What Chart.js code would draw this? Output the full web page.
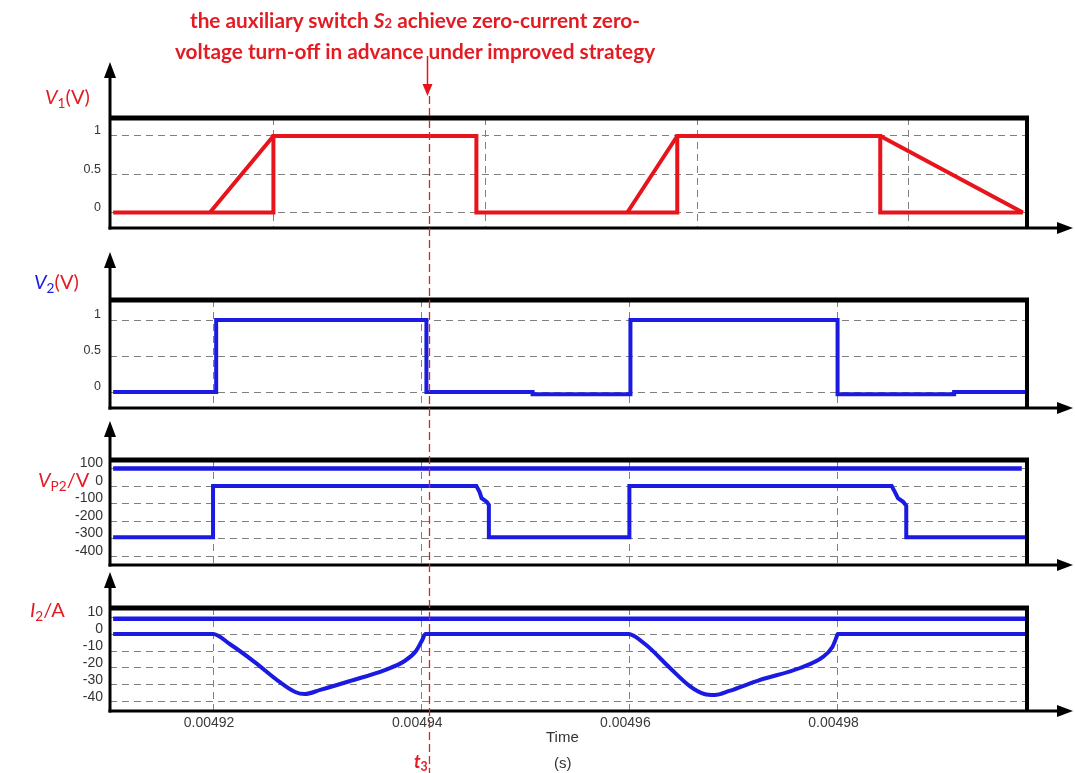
<!DOCTYPE html>
<html>
<head>
<meta charset="utf-8">
<title>Auxiliary switch S2 waveforms</title>
<script src="https://cdn.jsdelivr.net/npm/chart.js@4.4.1/dist/chart.umd.min.js"></script>
<style>
  html, body { margin: 0; padding: 0; background: #fff; }
  #page { position: relative; width: 1075px; height: 773px; overflow: hidden; font-family: Lato, "Open Sans", sans-serif; }
  #page canvas { position: absolute; left: 0; top: 0; }
  .txt { position: absolute; white-space: nowrap; line-height: 1; }
  .red { color: #e31b23; }
  .blue { color: #1a1ae0; }
  .sub { font-size: 0.68em; position: relative; top: 0.28em; }
  .axisName { font-size: 20px; }
  #headline { left: 140px; top: 6px; width: 550px; text-align: center; font-weight: bold; font-size: 20.8px; line-height: 28px; }
  #tmark { left: 414px; top: 752px; font-weight: bold; font-size: 18px; }
  .timeLbl { font-family: "Liberation Sans", Arial, sans-serif; font-size: 15px; color: #333; }
</style>
</head>
<body>
<div id="page">
  <canvas id="pV1" width="1075" height="773"></canvas>
  <canvas id="pV2" width="1075" height="773"></canvas>
  <canvas id="pVP2" width="1075" height="773"></canvas>
  <canvas id="pI2" width="1075" height="773"></canvas>

  <div id="headline" class="txt red">the auxiliary switch <i>S</i><span style="font-size:13px">2</span> achieve zero-current zero-<br>voltage turn-off in advance under improved strategy</div>
  <div class="txt red axisName" style="left:45px; top:86px;"><i>V</i><span class="sub">1</span>(V)</div>
  <div class="txt axisName" style="left:34px; top:271px;"><span class="blue"><i>V</i><span class="sub">2</span></span><span class="red">(V)</span></div>
  <div class="txt red axisName" style="left:38px; top:469px;"><i>V</i><span class="sub">P2</span>/V</div>
  <div class="txt red axisName" style="left:30px; top:599px;"><i>I</i><span class="sub">2</span>/A</div>
  <div id="tmark" class="txt red"><i>t</i><span class="sub">3</span></div>
  <div class="txt timeLbl" style="left:546px; top:729px;">Time</div>
  <div class="txt timeLbl" style="left:554px; top:755px;">(s)</div>
</div>

<script>
// ---- time axis (seconds) ----
const timeMin = 0.0049101;
const timeMax = 0.0049982;
const timeTicks = [0.00492, 0.00494, 0.00496, 0.00498];
const timeTickLabels = ['0.00492', '0.00494', '0.00496', '0.00498'];
const v1GridTimes = [0.0049258, 0.0049462, 0.0049665, 0.0049868];
const t3Time = 0.0049407;

// ---- V1 (V): gate signal of the main switch ----
const v1Time  = [0.0049104, 0.0049258, 0.0049258, 0.0049453, 0.0049453, 0.0049646, 0.0049646, 0.0049841, 0.0049841, 0.0049978];
const v1Value = [0, 0, 1, 1, 0, 0, 1, 1, 0, 0];
const v1RampTime  = [0.0049197, 0.0049258, 0.0049258, 0.0049598, 0.0049646, 0.0049646, 0.0049841, 0.0049978];
const v1RampValue = [0, 1, null, 0, 1, null, 1, 0];
const v1Ticks = [0, 0.5, 1];

// ---- V2 (V): gate signal of the auxiliary switch S2 ----
const v2Time  = [0.0049104, 0.0049203, 0.0049203, 0.0049405, 0.0049405, 0.0049507, 0.0049507, 0.0049601, 0.0049601, 0.0049800, 0.0049800, 0.0049912, 0.0049912, 0.0049982];
const v2Value = [0, 0, 1, 1, 0, 0, -0.03, -0.03, 1, 1, -0.03, -0.03, 0, 0];
const v2Ticks = [0, 0.5, 1];

// ---- VP2 (V) ----
const vp2UpperTime  = [0.0049104, 0.0049977];
const vp2UpperValue = [100, 100];
const vp2Time  = [0.0049104, 0.0049200, 0.0049200, 0.0049453, 0.0049456, 0.0049458, 0.0049463, 0.0049465, 0.0049465,
                  0.0049600, 0.0049600, 0.0049852, 0.0049855, 0.0049858, 0.0049863, 0.0049866, 0.0049866, 0.0049982];
const vp2Value = [-292, -292, 0, 0, -33, -69, -90, -108, -292,
                  -292, 0, 0, -33, -69, -90, -112, -292, -292];
const vp2Ticks = [-400, -300, -200, -100, 0, 100];

// ---- I2 (A) ----
const i2UpperTime  = [0.0049104, 0.0049982];
const i2UpperValue = [9, 9];
const i2Time  = [0.0049104, 0.0049200, 0.0049216, 0.0049240, 0.0049264, 0.0049279, 0.0049288, 0.0049303, 0.0049332,
                 0.0049365, 0.0049384, 0.0049395, 0.0049401, 0.0049404,
                 0.0049599, 0.0049615, 0.0049639, 0.0049658, 0.0049672, 0.0049682, 0.0049696, 0.0049725, 0.0049764,
                 0.0049786, 0.0049795, 0.0049799, 0.0049800, 0.0049982];
const i2Value = [0, 0, -5.9, -16.5, -28.2, -34.1, -35.3, -32.9, -27.6,
                 -21.2, -15.9, -10, -3.5, 0,
                 0, -5.9, -20, -30.6, -35.3, -35.9, -33.5, -27.1, -20,
                 -13.5, -7.6, -1.8, 0, 0];
const i2Ticks = [-40, -30, -20, -10, 0, 10];

const RED = '#e8141c';
const BLUE = '#1a1ae0';
const GRID = '#808080';

function points(ts, vs) {
  return ts.map((t, i) => ({ x: t, y: vs[i] }));
}

function line(ts, vs, color, width, extra) {
  return Object.assign({
    data: points(ts, vs),
    borderColor: color,
    borderWidth: width,
    pointRadius: 0,
    tension: 0,
    fill: false,
    borderJoinStyle: 'miter',
    borderCapStyle: 'butt'
  }, extra || {});
}

// Box, arrowed axes and the t3 marker drawn on top of each panel
const framePlugin = {
  id: 'frame',
  afterDraw(chart, args, opts) {
    const { ctx, chartArea: a, scales } = chart;
    ctx.save();
    ctx.strokeStyle = '#000';
    ctx.fillStyle = '#000';

    // upper edge of the box
    ctx.lineWidth = 5;
    ctx.beginPath();
    ctx.moveTo(a.left, a.top);
    ctx.lineTo(a.right + 2, a.top);
    ctx.stroke();

    // right edge of the box
    ctx.lineWidth = 4;
    ctx.beginPath();
    ctx.moveTo(a.right, a.top);
    ctx.lineTo(a.right, a.bottom);
    ctx.stroke();

    // vertical axis with arrow head
    ctx.lineWidth = 3;
    ctx.beginPath();
    ctx.moveTo(a.left, a.bottom + 1.5);
    ctx.lineTo(a.left, opts.arrowTop + 10);
    ctx.stroke();
    ctx.beginPath();
    ctx.moveTo(a.left, opts.arrowTop);
    ctx.lineTo(a.left - 6, opts.arrowTop + 16);
    ctx.lineTo(a.left + 6, opts.arrowTop + 16);
    ctx.closePath();
    ctx.fill();

    // horizontal axis with arrow head
    ctx.beginPath();
    ctx.moveTo(a.left - 1.5, a.bottom);
    ctx.lineTo(1062, a.bottom);
    ctx.stroke();
    ctx.beginPath();
    ctx.moveTo(1073, a.bottom);
    ctx.lineTo(1057, a.bottom - 6);
    ctx.lineTo(1057, a.bottom + 6);
    ctx.closePath();
    ctx.fill();

    if (opts.marker) {
      const xm = Math.round(scales.x.getPixelForValue(t3Time)) + 0.5;
      // pointer from the headline
      ctx.strokeStyle = RED;
      ctx.fillStyle = RED;
      ctx.lineWidth = 1.5;
      ctx.beginPath();
      ctx.moveTo(xm - 2, 56);
      ctx.lineTo(xm - 2, 86);
      ctx.stroke();
      ctx.beginPath();
      ctx.moveTo(xm - 2, 96);
      ctx.lineTo(xm - 7, 84);
      ctx.lineTo(xm + 3, 84);
      ctx.closePath();
      ctx.fill();
      // dashed t3 line through all panels
      ctx.strokeStyle = '#cf2a2a';
      ctx.lineWidth = 1.3;
      ctx.setLineDash([8, 4]);
      ctx.beginPath();
      ctx.moveTo(xm, 96);
      ctx.lineTo(xm, 773);
      ctx.stroke();
    }
    ctx.restore();
  }
};

function panel(id, cfg) {
  return new Chart(document.getElementById(id), {
    type: 'line',
    data: { datasets: cfg.datasets },
    options: {
      responsive: false,
      animation: false,
      events: [],
      layout: { padding: { left: 0, right: 48, top: cfg.boxTop, bottom: 0 } },
      plugins: {
        legend: { display: false },
        tooltip: { enabled: false },
        frame: { arrowTop: cfg.arrowTop, marker: !!cfg.marker }
      },
      scales: {
        x: {
          type: 'linear',
          min: timeMin,
          max: timeMax,
          afterBuildTicks: s => { s.ticks = cfg.gridTimes.map(v => ({ value: v })); },
          afterFit: s => { s.height = 773 - cfg.boxBottom; },
          grid: { color: GRID, lineWidth: 1, drawTicks: false },
          border: { display: false, dash: [7, 5] },
          ticks: {
            display: !!cfg.timeLabels,
            autoSkip: false,
            maxRotation: 0,
            padding: 4,
            labelOffset: -4,
            color: '#3a3a3a',
            font: { family: '"Liberation Sans", Arial, sans-serif', size: 14 },
            callback: (v, i) => timeTickLabels[i]
          }
        },
        y: {
          type: 'linear',
          min: cfg.yMin,
          max: cfg.yMax,
          afterBuildTicks: s => { s.ticks = cfg.yTicks.map(v => ({ value: v })); },
          afterFit: s => { s.width = 110; },
          grid: { color: GRID, lineWidth: 1, drawTicks: true, tickLength: cfg.tickGap, tickColor: 'rgba(0,0,0,0)' },
          border: { display: false, dash: [7, 5] },
          ticks: {
            padding: 0,
            labelOffset: -5,
            color: '#333',
            font: { family: '"Liberation Sans", Arial, sans-serif', size: cfg.tickSize },
            callback: v => String(v)
          }
        }
      }
    },
    plugins: [framePlugin]
  });
}

panel('pV1', {
  boxTop: 118, boxBottom: 228, arrowTop: 62,
  yMin: -0.203, yMax: 1.235, yTicks: v1Ticks, tickSize: 12.5, tickGap: 9,
  gridTimes: v1GridTimes,
  datasets: [
    line(v1Time, v1Value, RED, 4),
    line(v1RampTime, v1RampValue, RED, 4, { spanGaps: false })
  ]
});

panel('pV2', {
  boxTop: 300, boxBottom: 408, arrowTop: 252,
  yMin: -0.222, yMax: 1.278, yTicks: v2Ticks, tickSize: 12.5, tickGap: 9,
  gridTimes: timeTicks,
  datasets: [ line(v2Time, v2Value, BLUE, 4) ]
});

panel('pVP2', {
  boxTop: 460, boxBottom: 565, arrowTop: 421,
  yMin: -451, yMax: 149, yTicks: vp2Ticks, tickSize: 14, tickGap: 7,
  gridTimes: timeTicks,
  datasets: [
    line(vp2UpperTime, vp2UpperValue, BLUE, 4.5),
    line(vp2Time, vp2Value, BLUE, 4)
  ]
});

panel('pI2', {
  boxTop: 608, boxBottom: 711, arrowTop: 572,
  yMin: -45.3, yMax: 15.3, yTicks: i2Ticks, tickSize: 14, tickGap: 7,
  gridTimes: timeTicks, timeLabels: true, marker: true,
  datasets: [
    line(i2UpperTime, i2UpperValue, BLUE, 4.5),
    line(i2Time, i2Value, BLUE, 4, { cubicInterpolationMode: 'monotone' })
  ]
});
</script>
</body>
</html>
